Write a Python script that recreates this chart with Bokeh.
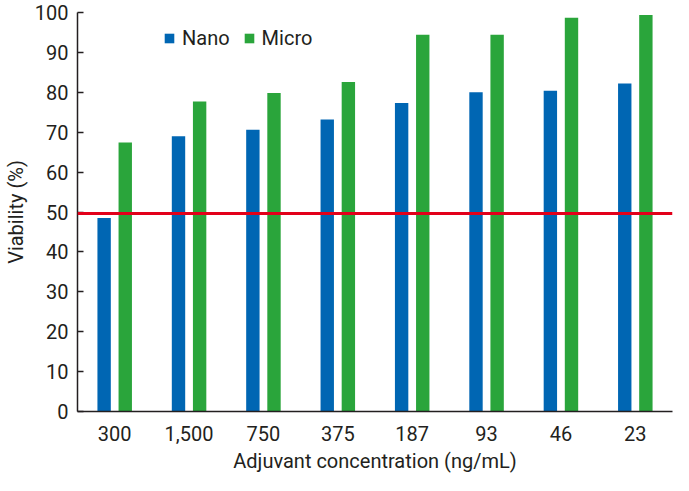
from bokeh.plotting import figure
from bokeh.models import (FactorRange, Range1d, Span, Legend, LegendItem,
                          ColumnDataSource, FixedTicker)
from bokeh.transform import dodge
from bokeh.embed import file_html
from bokeh.resources import INLINE

concentrations = ["300", "1,500", "750", "375", "187", "93", "46", "23"]
nano = [48.5, 69.0, 70.6, 73.2, 77.3, 80.0, 80.4, 82.2]
micro = [67.4, 77.7, 79.8, 82.6, 94.4, 94.4, 98.7, 99.4]
threshold = 49.6
y_ticks = [0, 10, 20, 30, 40, 50, 60, 70, 80, 90, 100]

BLUE = "#0066b3"
GREEN = "#2aa53b"
RED = "#e2001a"
INK = "#231f20"
FONT = "Roboto"
FS = "20px"

src = ColumnDataSource(dict(conc=concentrations, nano=nano, micro=micro))

p = figure(width=673, height=475,
           x_range=FactorRange(factors=concentrations, range_padding=0),
           y_range=Range1d(0, 100),
           output_backend="svg", toolbar_location=None,
           min_border_left=70, min_border_right=1, min_border_top=12,
           min_border_bottom=10)

p.outline_line_color = None
p.xgrid.grid_line_color = None
p.ygrid.grid_line_color = None

r_nano = p.vbar(x=dodge("conc", -0.142, range=p.x_range), top="nano", width=0.18,
                source=src, fill_color=BLUE, line_color=None)
r_micro = p.vbar(x=dodge("conc", 0.142, range=p.x_range), top="micro", width=0.18,
                 source=src, fill_color=GREEN, line_color=None)

span = Span(location=threshold, dimension="width", line_color=RED, line_width=3)
p.add_layout(span)

# y axis
p.yaxis.ticker = FixedTicker(ticks=y_ticks)
p.yaxis.major_tick_in = 6
p.yaxis.major_tick_out = 0
p.yaxis.minor_tick_line_color = None
p.yaxis.axis_label = "Viability (%)"
p.yaxis.major_label_standoff = 9
p.yaxis.axis_label_standoff = 4

# x axis
p.xaxis.major_tick_in = 0
p.xaxis.major_tick_out = 0
p.xaxis.axis_label = "Adjuvant concentration (ng/mL)"
p.xaxis.major_label_standoff = 14
p.xaxis.axis_label_standoff = 5

for ax in (p.xaxis, p.yaxis):
    ax.axis_line_color = INK
    ax.axis_line_width = 1.5
    ax.major_tick_line_color = INK
    ax.major_tick_line_width = 1.5
    ax.major_label_text_font = FONT
    ax.major_label_text_font_size = FS
    ax.major_label_text_color = INK
    ax.axis_label_text_font = FONT
    ax.axis_label_text_font_size = FS
    ax.axis_label_text_font_style = "normal"
    ax.axis_label_text_color = INK

legend = Legend(items=[LegendItem(label="Nano", renderers=[r_nano]),
                       LegendItem(label="Micro", renderers=[r_micro])],
                orientation="horizontal", location=(86, 361),
                border_line_color=None, background_fill_alpha=0,
                padding=0, margin=0, spacing=13, label_standoff=7,
                glyph_width=12, glyph_height=12,
                label_text_font=FONT, label_text_font_size=FS,
                label_text_color=INK)
p.add_layout(legend)

open("out.html", "w").write(file_html(p, INLINE))
